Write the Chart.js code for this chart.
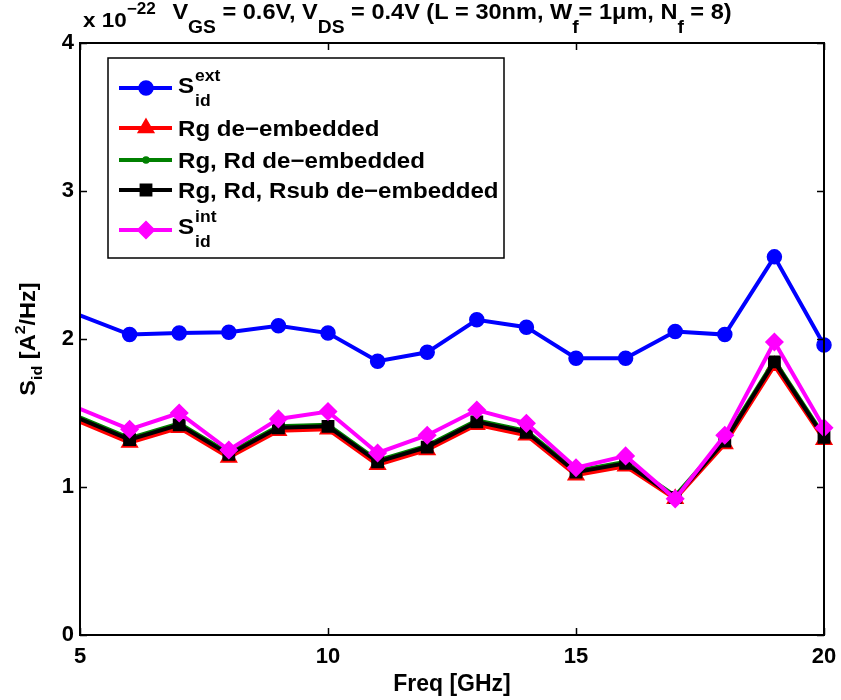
<!DOCTYPE html>
<html>
<head>
<meta charset="utf-8">
<script src="https://cdn.jsdelivr.net/npm/chart.js@4/dist/chart.umd.min.js"></script>
<style>
  html, body { margin: 0; padding: 0; background: #ffffff; }
  canvas { display: block; }
</style>
</head>
<body>
<canvas id="c" width="841" height="700"></canvas>
<script>
// Frequency points (GHz); the first sample lies left of the visible range
const freq = [4, 6, 7, 8, 9, 10, 11, 12, 13, 14, 15, 16, 17, 18, 19, 20];

// Noise spectral density, units of 1e-22 A^2/Hz
const sidExt      = [2.29, 2.03, 2.04, 2.045, 2.09, 2.04, 1.85, 1.91, 2.13, 2.08, 1.87, 1.87, 2.05, 2.03, 2.555, 1.96];
const rgDe        = [1.58, 1.30, 1.40, 1.20, 1.38, 1.39, 1.15, 1.25, 1.42, 1.35, 1.08, 1.14, 0.92, 1.29, 1.82, 1.32];
const rgRdDe      = [1.61, 1.33, 1.43, 1.23, 1.41, 1.42, 1.18, 1.28, 1.45, 1.38, 1.11, 1.17, 0.94, 1.32, 1.855, 1.345];
const rgRdRsubDe  = [1.60, 1.32, 1.42, 1.22, 1.40, 1.41, 1.17, 1.27, 1.44, 1.37, 1.10, 1.16, 0.93, 1.31, 1.845, 1.335];
const sidInt      = [1.665, 1.39, 1.50, 1.25, 1.46, 1.51, 1.23, 1.35, 1.52, 1.43, 1.13, 1.21, 0.92, 1.35, 1.98, 1.40];

// Axis ticks
const xTicks = [5, 10, 15, 20];
const yTicks = [0, 1, 2, 3, 4];

const FONT = "'Liberation Sans', Arial, Helvetica, sans-serif";
let SX = 1.07; // horizontal stretch applied to hand-drawn text

function pts(ys) { return freq.map((f, i) => ({ x: f, y: ys[i] })); }

const seriesStyle = [
  { label: 'ext', color: '#0000ff', style: 'circle',   radius: 7, data: sidExt,     order: 5 },
  { label: 'Rg de\u2212embedded', color: '#ff0000', style: 'triangle', radius: 9, data: rgDe, order: 4 },
  { label: 'Rg, Rd de\u2212embedded', color: '#008000', style: 'circle', radius: 3, data: rgRdDe, order: 3 },
  { label: 'Rg, Rd, Rsub de\u2212embedded', color: '#000000', style: 'rect', radius: 8, data: rgRdRsubDe, order: 2 },
  { label: 'int', color: '#ff00ff', style: 'rectRot', radius: 8.5, data: sidInt, order: 1 }
];

const datasets = seriesStyle.map(s => ({
  label: s.label,
  data: pts(s.data),
  borderColor: s.color,
  backgroundColor: s.color,
  borderWidth: 4,
  tension: 0,
  pointStyle: s.style,
  pointRadius: s.radius,
  pointBorderWidth: 1.5,
  pointBackgroundColor: s.color,
  pointBorderColor: s.color,
  order: s.order,
  clip: { left: 0, top: 20, right: 20, bottom: 20 }
}));

function setFont(ctx, size) { ctx.font = 'bold ' + size + 'px ' + FONT; }
function textW(ctx, t, size) { setFont(ctx, size); return ctx.measureText(t).width * SX; }
function put(ctx, t, x, y, size) {
  setFont(ctx, size);
  ctx.save();
  ctx.translate(x, y);
  ctx.scale(SX, 1);
  ctx.textAlign = 'left';
  ctx.textBaseline = 'alphabetic';
  ctx.fillText(t, 0, 0);
  ctx.restore();
}

// Runs of text: [text, mode] where mode 0 normal, 1 superscript, -1 subscript
function drawRich(ctx, parts, x, y, o) {
  const items = parts.map(([t, m]) => {
    const fs = m === 0 ? o.size : o.small;
    return { t, m, fs, w: textW(ctx, t, fs) };
  });
  const total = items.reduce((s, it) => s + it.w, 0);
  let cx = o.align === 'center' ? x - total / 2 : x;
  for (const it of items) {
    const dy = it.m === 1 ? -o.up : it.m === -1 ? o.down : 0;
    put(ctx, it.t, cx, y + dy, it.fs);
    cx += it.w;
  }
}

const framePlugin = {
  id: 'frame',
  afterDatasetsDraw(chart) {
    const { ctx, chartArea: a, scales } = chart;
    ctx.save();
    ctx.fillStyle = '#000';
    ctx.strokeStyle = '#000';

    // box
    ctx.lineWidth = 2;
    ctx.strokeRect(a.left, a.top, a.right - a.left, a.bottom - a.top);

    // inward ticks on all four sides
    const tl = 7;
    ctx.lineWidth = 1.5;
    ctx.beginPath();
    for (const v of xTicks) {
      const px = Math.round(scales.x.getPixelForValue(v)) + 0.5;
      ctx.moveTo(px, a.bottom); ctx.lineTo(px, a.bottom - tl);
      ctx.moveTo(px, a.top); ctx.lineTo(px, a.top + tl);
    }
    for (const v of yTicks) {
      const py = Math.round(scales.y.getPixelForValue(v)) + 0.5;
      ctx.moveTo(a.left, py); ctx.lineTo(a.left + tl, py);
      ctx.moveTo(a.right, py); ctx.lineTo(a.right - tl, py);
    }
    ctx.stroke();

    // exponent label and title
    SX = 1.07;
    drawRich(ctx, [['x 10', 0], ['\u221222', 1]], 83, 27, { size: 21, small: 16, up: 13, down: 0, align: 'left' });
    drawRich(ctx, [
      ['V', 0], ['GS', -1], [' = 0.6V, V', 0], ['DS', -1],
      [' = 0.4V (L = 30nm, W', 0], ['f', -1], ['= 1\u03bcm, N', 0], ['f', -1], [' = 8)', 0]
    ], (a.left + a.right) / 2, 19, { size: 22, small: 18, up: 0, down: 14, align: 'center' });

    // y-axis title, rotated
    ctx.save();
    ctx.translate(35, (a.top + a.bottom) / 2);
    ctx.rotate(-Math.PI / 2);
    drawRich(ctx, [['S', 0], ['id', -1], [' [A', 0], ['2', 1], ['/Hz]', 0]], 0, 0, { size: 22, small: 15, up: 10, down: 7, align: 'center' });
    ctx.restore();

    // legend
    SX = 1.095;
    const lx = 108, ly = 58, lw = 396, lh = 200;
    ctx.fillStyle = '#fff';
    ctx.fillRect(lx, ly, lw, lh);
    ctx.strokeStyle = '#000';
    ctx.lineWidth = 1.5;
    ctx.strokeRect(lx, ly, lw, lh);

    const rows = [88, 128, 160, 190, 230];
    seriesStyle.forEach((s, i) => {
      const y = rows[i];
      ctx.strokeStyle = s.color;
      ctx.fillStyle = s.color;
      ctx.lineWidth = 4;
      ctx.beginPath();
      ctx.moveTo(119, y); ctx.lineTo(172, y);
      ctx.stroke();
      ctx.lineWidth = 1.5;
      Chart.helpers.drawPoint(ctx, { pointStyle: s.style, radius: s.radius, rotation: 0, borderWidth: 1.5 }, 146, y);
      ctx.fillStyle = '#000';
      if (i === 0 || i === 4) {
        const base = y + (i === 0 ? 5 : 4);
        put(ctx, 'S', 178, base, 22);
        const sw = textW(ctx, 'S', 22);
        put(ctx, s.label, 178 + sw + 1, base - 12, 16);
        put(ctx, 'id', 178 + sw + 1, base + 13, 16);
      } else {
        put(ctx, s.label, 178, y + 8, 22);
      }
    });
    ctx.restore();
  }
};

new Chart(document.getElementById('c'), {
  type: 'line',
  data: { datasets },
  options: {
    responsive: false,
    animation: false,
    layout: { padding: { top: 43, right: 17, left: 0, bottom: 0 } },
    plugins: { legend: { display: false }, tooltip: { enabled: false }, title: { display: false } },
    scales: {
      x: {
        type: 'linear', min: 5, max: 20,
        afterFit(s) { s.height = 65; s.paddingLeft = 0; s.paddingRight = 0; },
        afterBuildTicks(s) { s.ticks = xTicks.map(v => ({ value: v })); },
        ticks: { color: '#000', font: { family: FONT, size: 22, weight: 'bold' }, padding: 9, maxRotation: 0 },
        grid: { display: false, drawTicks: false },
        border: { display: false },
        title: { display: true, text: 'Freq [GHz]', color: '#000', font: { family: FONT, size: 23, weight: 'bold' }, padding: { top: 0, bottom: 2 } }
      },
      y: {
        min: 0, max: 4,
        afterFit(s) { s.width = 80; s.paddingTop = 0; s.paddingBottom = 0; },
        afterBuildTicks(s) { s.ticks = yTicks.map(v => ({ value: v })); },
        ticks: { color: '#000', font: { family: FONT, size: 22, weight: 'bold' }, padding: 6 },
        grid: { display: false, drawTicks: false },
        border: { display: false }
      }
    }
  },
  plugins: [framePlugin]
});
</script>
</body>
</html>
